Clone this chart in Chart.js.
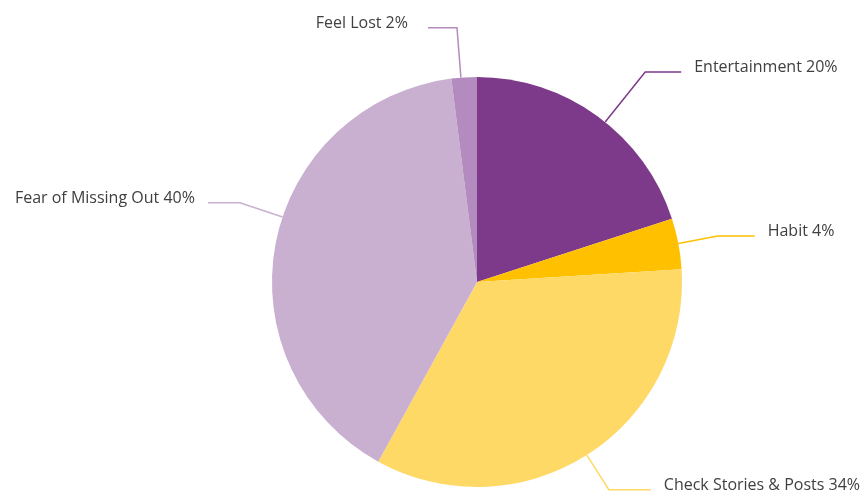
<!DOCTYPE html>
<html>
<head>
<meta charset="utf-8">
<script src="https://cdn.jsdelivr.net/npm/chart.js@4/dist/chart.umd.min.js"></script>
<style>
  html, body { margin: 0; padding: 0; background: #fff; }
  #wrap { width: 867px; height: 498px; }
</style>
</head>
<body>
<div id="wrap"><canvas id="chart" width="867" height="498"></canvas></div>
<script>
const categories = ['Entertainment', 'Habit', 'Check Stories & Posts', 'Fear of Missing Out', 'Feel Lost'];
const shares = [20, 4, 34, 40, 2];
const colors = ['#7E3A8A', '#FFC000', '#FFD966', '#C9AFD0', '#B48BBE'];

// leader line layout per slice: elbow distance from centre, horizontal run,
// gap before the text, optional angle (deg clockwise from top)
const leaders = [
    { elbow: 269, run: 36, gap: 13, angle: 38.7 },
    { elbow: 245, run: 37, gap: 13 },
    { elbow: 246, run: 42, gap: 13 },
    { elbow: 250, run: 32, gap: 13, angle: 288.5 },
    { elbow: 255, run: 29, gap: 20, angle: 355.5 }
];

const leaderLabels = {
    id: 'leaderLabels',
    afterDatasetsDraw(chart) {
        const ctx = chart.ctx;
        const arcs = chart.getDatasetMeta(0).data;
        ctx.save();
        ctx.font = '16px "Open Sans", "Noto Sans", sans-serif';
        ctx.textBaseline = 'alphabetic';
        arcs.forEach((arc, i) => {
            const p = arc.getProps(['x', 'y', 'startAngle', 'endAngle', 'outerRadius'], true);
            const lay = leaders[i];
            let a = (p.startAngle + p.endAngle) / 2;
            if (lay.angle !== undefined) a = lay.angle * Math.PI / 180 - Math.PI / 2;
            const x0 = p.x + Math.cos(a) * p.outerRadius;
            const y0 = p.y + Math.sin(a) * p.outerRadius;
            const x1 = p.x + Math.cos(a) * lay.elbow;
            const y1 = p.y + Math.sin(a) * lay.elbow;
            const dir = Math.cos(a) >= 0 ? 1 : -1;
            const x2 = x1 + dir * lay.run;
            ctx.strokeStyle = colors[i];
            ctx.lineWidth = 1.5;
            ctx.beginPath();
            ctx.moveTo(x0, y0);
            ctx.lineTo(x1, y1);
            ctx.lineTo(x2, y1);
            ctx.stroke();
            ctx.fillStyle = '#404040';
            ctx.textAlign = dir > 0 ? 'left' : 'right';
            ctx.fillText(categories[i] + ' ' + shares[i] + '%', x2 + dir * lay.gap, y1);
        });
        ctx.restore();
    }
};

new Chart(document.getElementById('chart'), {
    type: 'pie',
    data: {
        labels: categories,
        datasets: [{
            data: shares,
            backgroundColor: colors,
            borderWidth: 0
        }]
    },
    options: {
        responsive: false,
        animation: false,
        layout: { padding: { left: 272, right: 185, top: 77, bottom: 11 } },
        plugins: {
            legend: { display: false },
            tooltip: { enabled: false }
        }
    },
    plugins: [leaderLabels]
});
</script>
</body>
</html>
